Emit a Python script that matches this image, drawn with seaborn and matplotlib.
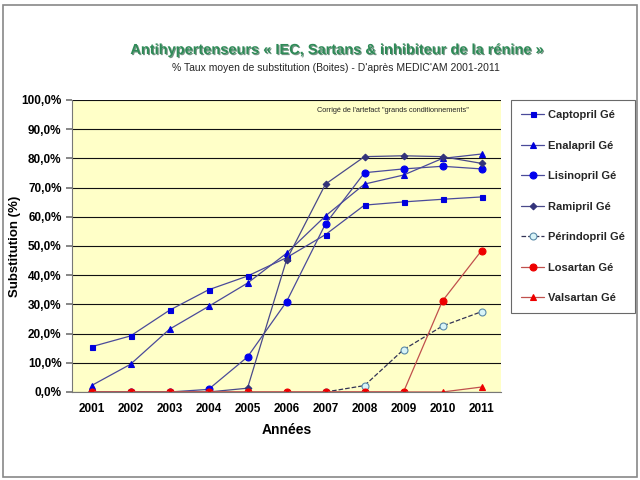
import numpy as np
import pandas as pd
import seaborn as sns
import matplotlib.pyplot as plt
import matplotlib.patheffects as pe
from matplotlib.patches import Rectangle

years = list(range(2001, 2012))

captopril = [15.5, 19.2, 28.0, 35.0, 39.7, 46.0, 53.9, 64.0, 65.1, 66.0, 66.8]
enalapril = [2.2, 9.5, 21.5, 29.3, 37.3, 47.5, 60.3, 71.2, 74.3, 80.0, 81.5]
lisinopril = [0.0, 0.0, 0.0, 0.9, 12.0, 30.9, 57.6, 75.1, 76.4, 77.3, 76.4]
ramipril = [0.0, 0.0, 0.0, 0.0, 1.3, 45.2, 71.2, 80.6, 80.9, 80.6, 78.3]
perindopril = [np.nan] * 6 + [0.0, 2.2, 14.5, 22.6, 27.5]
losartan = [0.0] * 9 + [31.2, 48.4]
valsartan = [0.0] * 10 + [1.7]

series_names = ["Captopril Gé", "Enalapril Gé", "Lisinopril Gé", "Ramipril Gé",
                "Périndopril Gé", "Losartan Gé", "Valsartan Gé"]
series_values = [captopril, enalapril, lisinopril, ramipril,
                 perindopril, losartan, valsartan]

# line colour, marker, marker face, marker edge, size, linestyle
styles = {
    "Captopril Gé": ("#4a4a9a", "s", "#0000dd", "#0000dd", 3.6, "-"),
    "Enalapril Gé": ("#4a4a9a", "^", "#0000dd", "#0000dd", 4.8, "-"),
    "Lisinopril Gé": ("#4a4a9a", "o", "#0000ee", "#0000ee", 5, "-"),
    "Ramipril Gé": ("#4a4a8a", "D", "#33337a", "#33337a", 3.4, "-"),
    "Périndopril Gé": ("#333355", "o", "#d8f4f8", "#5a8aa8", 5, "--"),
    "Losartan Gé": ("#c0504d", "o", "#ee0000", "#ee0000", 5, "-"),
    "Valsartan Gé": ("#c0504d", "^", "#ee0000", "#ee0000", 4.8, "-"),
}

sns.set_theme(style="white")
plt.rcParams["font.family"] = ["Liberation Sans", "DejaVu Sans"]

fig = plt.figure(figsize=(6.4, 4.8), dpi=100)
ax = fig.add_axes([72 / 640, 1 - 392 / 480, 429 / 640, 292 / 480])
ax.set_facecolor("#ffffc8")

for name, vals in zip(series_names, series_values):
    lc, mk, mf, me, ms, ls = styles[name]
    df = pd.DataFrame({"year": years, "value": vals}).dropna()
    sns.lineplot(data=df, x="year", y="value", ax=ax, color=lc, linewidth=0.9,
                 linestyle=ls, marker=mk, markersize=ms, markerfacecolor=mf,
                 markeredgecolor=me, markeredgewidth=0.8, label=name)

ax.set_xlim(2000.5, 2011.5)
ax.set_ylim(0, 100)
ax.set_yticks(np.arange(0, 101, 10))
ax.set_yticklabels([f"{v},0%" for v in range(0, 101, 10)],
                   fontsize=8.5, fontweight="bold", color="black")
ax.set_xticks(years)
ax.set_xticklabels([str(y) for y in years], fontsize=8.5, fontweight="bold",
                   color="black")
ax.set_xticks(np.arange(2000.5, 2012, 1), minor=True)
ax.tick_params(axis="x", which="major", length=0, pad=8)
ax.tick_params(axis="x", which="minor", length=4, color="#777777", direction="out")
ax.tick_params(axis="y", length=4, color="#777777", direction="out", left=True)
ax.yaxis.grid(True, color="#111111", linewidth=0.8)
ax.set_axisbelow(True)
for s in ["top", "right"]:
    ax.spines[s].set_visible(False)
for s in ["left", "bottom"]:
    ax.spines[s].set_color("#777777")
    ax.spines[s].set_linewidth(0.8)

ax.set_xlabel("Années", fontsize=10, fontweight="bold", labelpad=6, color="black")
ax.set_ylabel("Substitution (%)", fontsize=9.5, fontweight="bold", color="black")
ax.yaxis.set_label_coords(-0.118, 0.5)

ax.text(0.925, 0.975, "Corrigé de l'artefact \"grands conditionnements\"",
        transform=ax.transAxes, fontsize=5.3, ha="right", va="top")

fig.text(338 / 640, 1 - 50 / 480,
         "Antihypertenseurs « IEC, Sartans & inhibiteur de la rénine »",
         ha="center", va="center", fontsize=10.5, fontweight="bold", color="#2e8b57",
         path_effects=[pe.withSimplePatchShadow(offset=(0.8, -0.8),
                                                shadow_rgbFace="#1a4d33", alpha=0.6)])
fig.text(336 / 640, 1 - 68 / 480,
         "% Taux moyen de substitution (Boites) - D'après MEDIC'AM 2001-2011",
         ha="center", va="center", fontsize=7.5)

ax.get_legend().remove()
handles, labels = ax.get_legend_handles_labels()
leg = fig.legend(handles, labels, loc="upper left",
                 bbox_to_anchor=(511 / 640, 1 - 100 / 480),
                 prop={"weight": "bold", "size": 8}, frameon=True, fancybox=False,
                 edgecolor="#444444", labelspacing=1.85, handlelength=2.1,
                 borderpad=0.9, handletextpad=0.3, borderaxespad=0)
leg.get_frame().set_linewidth(0.8)

fig.patches.append(Rectangle((3 / 640, 3 / 480), 634 / 640, 472 / 480,
                             transform=fig.transFigure, fill=False,
                             edgecolor="#888888", linewidth=1.2))

fig.savefig("out.png", dpi=100)
